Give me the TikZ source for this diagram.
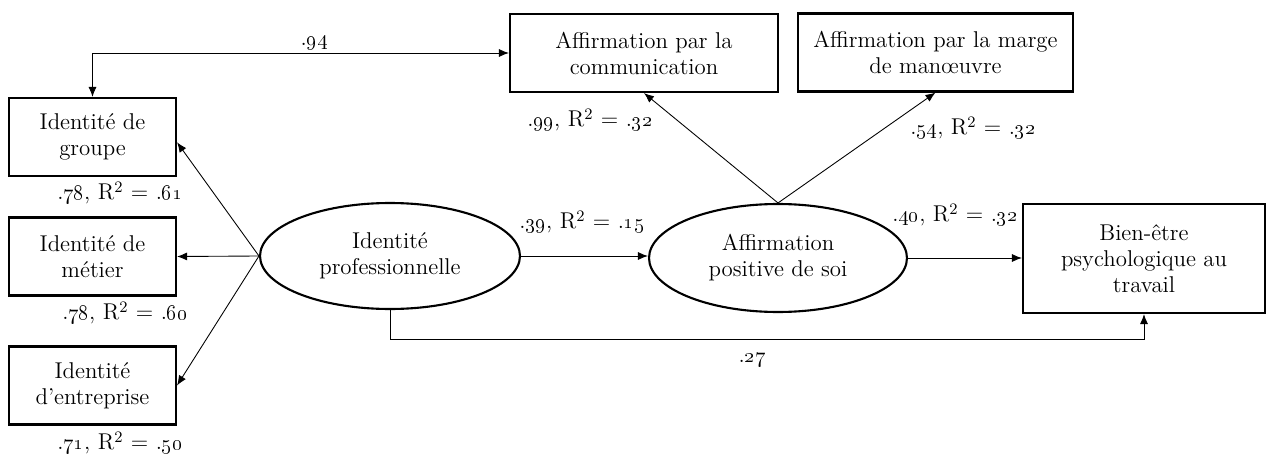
\documentclass[tikz,border=0pt]{standalone}
\usepackage{tikz}
\usetikzlibrary{arrows.meta,shapes.geometric}

\newcommand{\os}[1]{\oldstylenums{#1}}
\newcommand{\rsq}[2]{.\os{#1}, R\textsuperscript{2} = .\os{#2}}

\begin{document}
\begin{tikzpicture}
  [x=0.02cm,y=-0.02cm,>={Latex[length=2mm,width=1.6mm]},
   every node/.style={font=\fontsize{13}{14.8}\selectfont,align=center,inner sep=0pt},
   box/.style={draw,line width=1.2pt,minimum height=1.56cm},
   oval/.style={draw,ellipse,line width=1.2pt},
   arr/.style={->,line width=0.5pt}]
  \useasboundingbox (0,0) rectangle (1267,456);

  % measured variables
  \node[box,minimum width=3.34cm] (groupe) at (92.5,137) {Identité de\\groupe};
  \node[box,minimum width=3.34cm] (metier) at (92.5,256.5) {Identité de\\métier};
  \node[box,minimum width=3.34cm] (entreprise) at (92.5,385.5) {Identité\\d’entreprise};
  \node[box,minimum width=5.36cm] (comm) at (644,53) {Affirmation par la\\communication};
  \node[box,minimum width=5.5cm] (marge) at (935.5,52.5) {Affirmation par la marge\\de manœuvre};
  \node[box,minimum width=4.84cm,minimum height=2.18cm] (bien) at (1144,258.5) {Bien-être\\psychologique au\\travail};

  % latent variables
  \node[oval,minimum width=5.2cm,minimum height=2.12cm] (ip) at (390,256) {Identité\\professionnelle};
  \node[oval,minimum width=5.16cm,minimum height=2.16cm] (aps) at (778,258) {Affirmation\\positive de soi};

  % coefficients
  \node (l94) at (314,43) {.\os{94}};
  \node (l99) at (590,120) {\rsq{99}{32}};
  \node (l54) at (973,128) {\rsq{54}{32}};
  \node (l39) at (582,222) {\rsq{39}{15}};
  \node (l40) at (955,215) {\rsq{40}{32}};
  \node (l27) at (752,360) {.\os{27}};
  \node (l61) at (120,193) {\rsq{78}{61}};
  \node (l60) at (125,313) {\rsq{78}{60}};
  \node (l50) at (120,443) {\rsq{71}{50}};

  \draw[arr] (ip.west) -- ([yshift=-3pt]groupe.east);
  \foreach \to in {metier,entreprise}
    \draw[arr] (ip.west) -- (\to.east);
  \draw[arr] (ip.east) -- (ip.east -| aps.west);
  \foreach \to in {comm,marge}
    \draw[arr] (aps.north) -- (\to.south);
  \draw[arr] (aps.east) -- (aps.east -| bien.west);
  \draw[arr] (ip.south) -- ++(0,29) -| (bien.south);
  \draw[arr,<->] (groupe.north) |- (comm.west);

\end{tikzpicture}
\end{document}
